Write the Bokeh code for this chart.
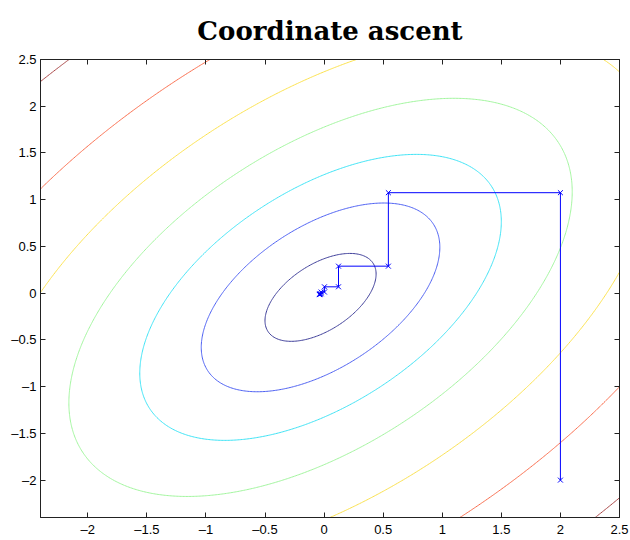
import numpy as np
from bokeh.plotting import figure
from bokeh.models import Range1d, LinearAxis, FixedTicker, CustomJSTickFormatter
from bokeh.embed import file_html
from bokeh.resources import INLINE

# ---- data ----
TITLE = "Coordinate ascent"
X_TICKS = [-2, -1.5, -1, -0.5, 0, 0.5, 1, 1.5, 2, 2.5]
Y_TICKS = [-2, -1.5, -1, -0.5, 0, 0.5, 1, 1.5, 2, 2.5]
X_RANGE = (-2.4, 2.5)
Y_RANGE = (-2.4, 2.5)

# quadratic objective: contours of (dx^2 + dy^2 - 2*c*dx*dy)
CENTER_X = -0.03
CENTER_Y = -0.045
COUPLING = 0.53
LEVELS = [0.159, 0.733, 1.683, 3.262, 5.75, 9.88, 16.75]
LEVEL_COLORS = ["#3d3d99", "#4d60f2", "#3fe3f5", "#a2f59e", "#fbe14c", "#f96c4c", "#a84444"]

# coordinate ascent path
PATH_X = [2.0, 2.0, 0.544, 0.544, 0.122, 0.122, 0.003, 0.003, -0.025, -0.025, -0.035, -0.035, -0.039, -0.039]
PATH_Y = [-2.0, 1.075, 1.075, 0.289, 0.289, 0.068, 0.068, 0.012, 0.012, -0.006, -0.006, -0.013, -0.013, -0.016]

p = figure(frame_width=579, frame_height=458,
           x_range=Range1d(*X_RANGE), y_range=Range1d(*Y_RANGE),
           output_backend="svg", toolbar_location=None,
           x_axis_location=None, y_axis_location=None,
           min_border_left=40, min_border_right=10, min_border_top=59, min_border_bottom=20)
p.background_fill_color = "white"
p.border_fill_color = "white"
p.outline_line_color = "#222222"
p.xgrid.visible = False
p.ygrid.visible = False

p.title.text = TITLE
p.title.text_font = "DejaVu Serif"
p.title.text_font_style = "bold"
p.title.text_font_size = "26px"
p.title.align = "center"
p.title.text_color = "black"
p.title.standoff = 27

fmt = CustomJSTickFormatter(code="""
    var s = Math.abs(tick).toString();
    return tick < 0 ? '\u2013' + s : s;
""")
blank = CustomJSTickFormatter(code="return '';")

def make_axis(ticks, show_labels):
    ax = LinearAxis(ticker=FixedTicker(ticks=ticks), formatter=fmt if show_labels else blank)
    ax.major_tick_in = 5
    ax.major_tick_out = 0
    ax.minor_tick_line_color = None
    ax.axis_line_color = "#222222"
    ax.major_tick_line_color = "#222222"
    ax.major_label_text_font = "Liberation Sans"
    ax.major_label_text_font_size = "13px" if show_labels else "0px"
    ax.major_label_text_color = "black"
    ax.major_label_standoff = 4 if show_labels else 0
    return ax

p.add_layout(make_axis(X_TICKS, True), "below")
p.add_layout(make_axis(Y_TICKS, True), "left")
p.add_layout(make_axis(Y_TICKS, False), "right")
p.add_layout(make_axis(X_TICKS, False), "above")

# contour field
gx = np.linspace(X_RANGE[0], X_RANGE[1], 400)
gy = np.linspace(Y_RANGE[0], Y_RANGE[1], 400)
GX, GY = np.meshgrid(gx, gy)
DX = GX - CENTER_X
DY = GY - CENTER_Y
Z = DX**2 + DY**2 - 2 * COUPLING * DX * DY
p.contour(x=gx, y=gy, z=Z, levels=LEVELS, line_color=LEVEL_COLORS, line_width=1)

p.line(PATH_X, PATH_Y, line_color="#0000ff", line_width=1)
p.scatter(PATH_X, PATH_Y, marker="x", size=7, line_color="#0000ff", line_width=1)

open("out.html", "w").write(file_html(p, INLINE))
